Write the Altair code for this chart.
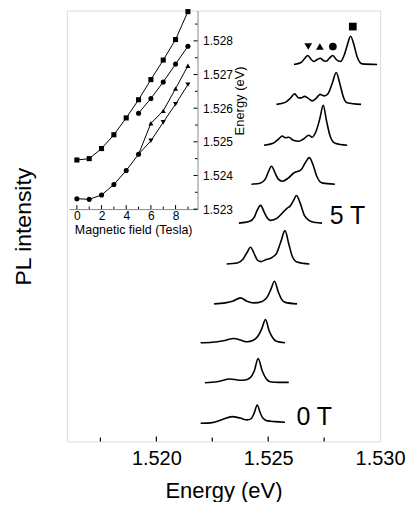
import altair as alt
import pandas as pd

FONT = "Liberation Sans"

# ---------------- main panel: PL spectra (energy in eV, intensity in a.u.) ----------------
FIELDS_T = [0, 1, 2, 3, 4, 5, 6, 7, 8, 9]
OFFSETS = [20, 59, 99, 138, 178, 219, 258, 297, 338, 378]

E_0T = [1.52198, 1.52250, 1.52295, 1.52339, 1.52375, 1.52406, 1.52424, 1.52438, 1.52451, 1.52464, 1.52478, 1.52496, 1.52531, 1.52575]
I_0T = [-1.7, -1, 2, 5, 3.5, 1.7, 3, 9, 16.7, 9, 3, 0.7, 0, -0.7]

E_1T = [1.52217, 1.52272, 1.52330, 1.52371, 1.52397, 1.52420, 1.52438, 1.52455, 1.52473, 1.52491, 1.52509, 1.52549, 1.52592]
I_1T = [0, 1, 3.7, 2.5, 2.7, 5, 12, 24.3, 12, 4, 1, 0.3, 0.3]

E_2T = [1.52198, 1.52250, 1.52299, 1.52347, 1.52379, 1.52406, 1.52433, 1.52455, 1.52471, 1.52488, 1.52504, 1.52520, 1.52536, 1.52575]
I_2T = [0, 0.5, 2, 4.3, 2.5, 1, 2.5, 7, 14, 23.3, 12, 5, 1.5, 0]

E_3T = [1.52258, 1.52308, 1.52344, 1.52376, 1.52402, 1.52436, 1.52473, 1.52496, 1.52511, 1.52528, 1.52545, 1.52560, 1.52576, 1.52629]
I_3T = [0, 1, 3, 6, 3, 1, 2.5, 7, 14, 22.7, 12, 4.5, 1.5, 0]

E_4T = [1.52314, 1.52362, 1.52388, 1.52404, 1.52421, 1.52438, 1.52451, 1.52466, 1.52487, 1.52518, 1.52538, 1.52556, 1.52575, 1.52592, 1.52607, 1.52629, 1.52684]
I_4T = [0, 1, 5, 11, 16.7, 10, 4, 2.4, 4, 6.7, 11, 22, 33.4, 20, 8, 2, 0]

E_5T = [1.52369, 1.52415, 1.52438, 1.52451, 1.52466, 1.52482, 1.52496, 1.52510, 1.52540, 1.52567, 1.52585, 1.52598, 1.52614, 1.52626, 1.52643, 1.52661, 1.52682, 1.52710, 1.52741]
I_5T = [0, 1.5, 6, 13, 17.7, 11, 5, 2.7, 5, 11, 15, 17, 23, 27.7, 20, 8, 2.7, 0.5, 0]

E_6T = [1.52425, 1.52464, 1.52487, 1.52500, 1.52515, 1.52531, 1.52545, 1.52563, 1.52589, 1.52616, 1.52634, 1.52647, 1.52667, 1.52684, 1.52701, 1.52717, 1.52741, 1.52798]
I_6T = [0, 1, 5, 12, 18, 11, 5, 3, 6, 11.5, 13, 14.5, 22, 26.6, 19, 8, 1.3, 0]

E_7T = [1.52481, 1.52522, 1.52545, 1.52563, 1.52576, 1.52592, 1.52612, 1.52637, 1.52656, 1.52682, 1.52696, 1.52714, 1.52730, 1.52746, 1.52761, 1.52777, 1.52799, 1.52853]
I_7T = [0, 2, 6, 9.3, 7.5, 8, 5, 4, 6, 10, 8, 14, 26, 40, 24, 9, 2, 0]

E_8T = [1.52537, 1.52576, 1.52598, 1.52618, 1.52636, 1.52647, 1.52663, 1.52679, 1.52696, 1.52714, 1.52732, 1.52750, 1.52768, 1.52786, 1.52804, 1.52821, 1.52835, 1.52853, 1.52915]
I_8T = [0, 2, 6, 10.5, 6.5, 6.5, 8, 6, 3.5, 6, 10, 8.5, 11, 21, 32, 20, 8, 1.7, 0]

E_9T = [1.52615, 1.52647, 1.52663, 1.52677, 1.52692, 1.52704, 1.52719, 1.52733, 1.52746, 1.52759, 1.52772, 1.52789, 1.52804, 1.52823, 1.52839, 1.52853, 1.52868, 1.52884, 1.52897, 1.52920, 1.52987]
I_9T = [0, 2, 6, 9, 5, 3, 5, 6.3, 4, 3.3, 6, 9, 5, 3, 9, 19, 28.3, 19, 8, 0.6, 0]

SPEC_E = [E_0T, E_1T, E_2T, E_3T, E_4T, E_5T, E_6T, E_7T, E_8T, E_9T]
SPEC_I = [I_0T, I_1T, I_2T, I_3T, I_4T, I_5T, I_6T, I_7T, I_8T, I_9T]

# field labels and peak symbols
LABEL_TEXT = ["5 T", "0 T"]
LABEL_E = [1.52775, 1.52626]
LABEL_I = [218, 17]

MARKER_SHAPE = ["triangle-down", "triangle-up", "circle", "square"]
MARKER_E = [1.52679, 1.52731, 1.52789, 1.52878]
MARKER_I = [396, 396, 396, 416]

X_TICKS_MAJOR = [1.520, 1.525]
X_TICKS_MINOR = [1.5175, 1.5225, 1.5275]
X_LABELS = [1.520, 1.525, 1.530]

# ---------------- inset: peak energy vs magnetic field ----------------
INSET_T = [0, 1, 2, 3, 4, 5, 6, 7, 8, 9]
SQUARE_E = [1.52446, 1.52450, 1.52480, 1.52521, 1.52571, 1.52625, 1.52685, 1.52743, 1.52804, 1.52887]
CIRCLE_LOW_E = [1.52331, 1.52329, 1.52342, 1.52373, 1.52415, 1.52463]   # 0..5 T
CIRCLE_HIGH_E = [1.52585, 1.52629, 1.52678, 1.52731, 1.52784]          # 5..9 T
TRI_UP_E = [1.52555, 1.52592, 1.52658, 1.52726]                        # 6..9 T
TRI_DOWN_E = [1.52503, 1.52558, 1.52612, 1.52670]                      # 6..9 T

INSET_X_LABELS = [0, 2, 4, 6, 8]
INSET_X_MINOR = [1, 3, 5, 7, 9]
INSET_Y_LABELS = [1.523, 1.524, 1.525, 1.526, 1.527, 1.528]
INSET_Y_MINOR = [1.5235, 1.5245, 1.5255, 1.5265, 1.5275, 1.5285]

# ---------------- build tables ----------------
rows = []
for t, off, es, ins in zip(FIELDS_T, OFFSETS, SPEC_E, SPEC_I):
    for k, (e, i) in enumerate(zip(es, ins)):
        rows.append({"field": t, "k": k, "energy": e, "intensity": i + off})
spec_df = pd.DataFrame(rows)

labels_df = pd.DataFrame({"energy": LABEL_E, "intensity": LABEL_I, "text": LABEL_TEXT})
markers_df = pd.DataFrame({"energy": MARKER_E, "intensity": MARKER_I, "shape": MARKER_SHAPE})

line_rows = []
for t, e in zip(INSET_T, SQUARE_E):
    line_rows.append({"series": "sq", "T": t, "E": e})
for t, e in zip(INSET_T[5:], CIRCLE_HIGH_E):
    line_rows.append({"series": "ch", "T": t, "E": e})
for t, e in list(zip(INSET_T[:6], CIRCLE_LOW_E)) + list(zip(INSET_T[6:], TRI_UP_E)):
    line_rows.append({"series": "up", "T": t, "E": e})
for t, e in [(INSET_T[5], CIRCLE_LOW_E[5])] + list(zip(INSET_T[6:], TRI_DOWN_E)):
    line_rows.append({"series": "down", "T": t, "E": e})
inset_lines_df = pd.DataFrame(line_rows)

pt_rows = []
pt_rows += [{"T": t, "E": e, "shape": "square"} for t, e in zip(INSET_T, SQUARE_E)]
pt_rows += [{"T": t, "E": e, "shape": "circle"} for t, e in zip(INSET_T[:6], CIRCLE_LOW_E)]
pt_rows += [{"T": t, "E": e, "shape": "circle"} for t, e in zip(INSET_T[5:], CIRCLE_HIGH_E)]
pt_rows += [{"T": t, "E": e, "shape": "triangle-up"} for t, e in zip(INSET_T[6:], TRI_UP_E)]
pt_rows += [{"T": t, "E": e, "shape": "triangle-down"} for t, e in zip(INSET_T[6:], TRI_DOWN_E)]
inset_pts_df = pd.DataFrame(pt_rows)

W, H = 314, 432
INSET_W, INSET_H = 131, 199

shape_scale = alt.Scale(domain=["square", "circle", "triangle-up", "triangle-down"],
                        range=["square", "circle", "triangle-up", "triangle-down"])

X_main = alt.X("energy:Q",
               scale=alt.Scale(domain=[1.516, 1.530], nice=False, zero=False),
               axis=alt.Axis(values=X_LABELS, format=".3f", ticks=False, domain=False, grid=False,
                             labelFontSize=20, labelPadding=7, labelFlush=False,
                             title="Energy (eV)", titleFontSize=22, titlePadding=12,
                             titleFontWeight="normal"))
Y_main = alt.Y("intensity:Q",
               scale=alt.Scale(domain=[0, 432], nice=False, zero=False),
               axis=alt.Axis(labels=False, ticks=False, domain=False, grid=False,
                             title="PL intensity", titleFontSize=23, titlePadding=31,
                             titleFontWeight="normal"))

spectra = alt.Chart(spec_df).mark_line(color="black", strokeWidth=1.6, interpolate="monotone").encode(
    x=X_main, y=Y_main, detail="field:N", order="k:Q")

labels = alt.Chart(labels_df).mark_text(align="left", baseline="alphabetic", fontSize=25,
                                        font=FONT, color="black").encode(
    x=X_main, y=Y_main, text="text:N")

markers = alt.Chart(markers_df).mark_point(filled=True, color="black", opacity=1, size=60).encode(
    x=X_main, y=Y_main, shape=alt.Shape("shape:N", scale=shape_scale, legend=None))

xt_major = alt.Chart(pd.DataFrame({"energy": X_TICKS_MAJOR})).mark_rule(color="black", strokeWidth=1.2).encode(
    x=X_main, y=alt.value(H), y2=alt.value(H - 5))
xt_minor = alt.Chart(pd.DataFrame({"energy": X_TICKS_MINOR})).mark_rule(color="black", strokeWidth=1.2).encode(
    x=X_main, y=alt.value(H), y2=alt.value(H - 4))

main = alt.layer(spectra, labels, markers, xt_major, xt_minor)

X_in = alt.X("T:Q",
             scale=alt.Scale(domain=[-0.65, 9.78], range=[2, INSET_W], nice=False, zero=False),
             axis=alt.Axis(orient="bottom", offset=-(H - INSET_H), values=INSET_X_LABELS, format="d",
                           ticks=False, domain=True, grid=False, labelFontSize=12, labelPadding=1,
                           labelFlush=False, title="Magnetic field (Tesla)", titleFontSize=12.5,
                           titlePadding=2, titleFontWeight="normal"))
Y_in = alt.Y("E:Q",
             scale=alt.Scale(domain=[1.523, 1.5289], range=[INSET_H, 0], nice=False, zero=False),
             axis=alt.Axis(orient="right", offset=-(W - INSET_W), values=INSET_Y_LABELS, format=".3f",
                           ticks=False, domain=True, grid=False, labelFontSize=12, labelPadding=5,
                           labelFlush=False, title="Energy (eV)", titleAngle=270, titleFontSize=13,
                           titleFontWeight="normal", titleX=42, titleY=90, titleAlign="center",
                           titleBaseline="middle"))

in_lines = alt.Chart(inset_lines_df).mark_line(color="black", strokeWidth=1).encode(
    x=X_in, y=Y_in, detail="series:N", order="T:Q")
in_pts = alt.Chart(inset_pts_df).mark_point(filled=True, color="black", opacity=1, size=26).encode(
    x=X_in, y=Y_in, shape=alt.Shape("shape:N", scale=shape_scale, legend=None))
ixt_major = alt.Chart(pd.DataFrame({"T": INSET_X_LABELS})).mark_rule(color="black", strokeWidth=1).encode(
    x=X_in, y=alt.value(INSET_H), y2=alt.value(INSET_H - 4))
ixt_minor = alt.Chart(pd.DataFrame({"T": INSET_X_MINOR})).mark_rule(color="black", strokeWidth=1).encode(
    x=X_in, y=alt.value(INSET_H), y2=alt.value(INSET_H - 2.5))
iyt_major = alt.Chart(pd.DataFrame({"E": INSET_Y_LABELS})).mark_rule(color="black", strokeWidth=1).encode(
    y=Y_in, x=alt.value(INSET_W), x2=alt.value(INSET_W - 4))
iyt_minor = alt.Chart(pd.DataFrame({"E": INSET_Y_MINOR})).mark_rule(color="black", strokeWidth=1).encode(
    y=Y_in, x=alt.value(INSET_W), x2=alt.value(INSET_W - 2.5))

inset = alt.layer(in_lines, in_pts, ixt_major, ixt_minor, iyt_major, iyt_minor)

chart = alt.layer(main, inset).resolve_scale(x="independent", y="independent").properties(
    width=W, height=H, padding={"left": 5, "top": 0, "right": 5, "bottom": 0}
).configure_view(stroke="black", strokeWidth=1.8).configure_axis(
    labelFont=FONT, titleFont=FONT, labelColor="black", titleColor="black",
    domainColor="black", domainWidth=1.3, titleFontWeight="normal"
).configure(background="white")

chart.save("out.html", embed_options={"renderer": "svg", "actions": False})
